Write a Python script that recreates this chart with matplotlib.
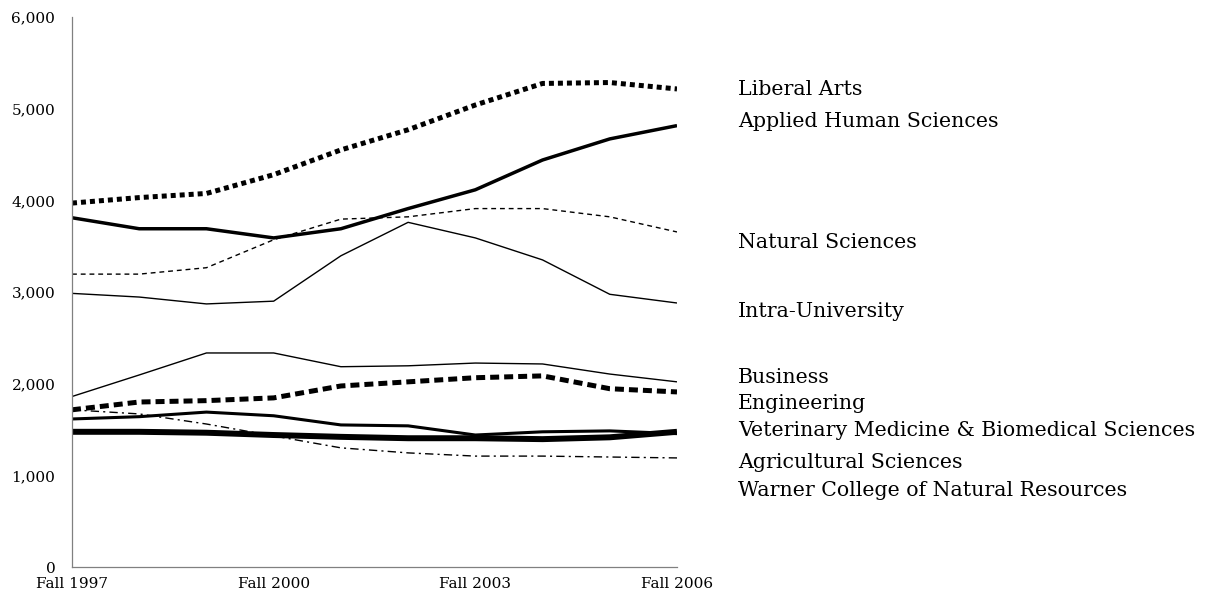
import matplotlib
matplotlib.use("Agg")
from matplotlib import pyplot as plt

plt.rcParams['font.family'] = ['DejaVu Serif']

years = ['Fall 1997', 'Fall 1998', 'Fall 1999', 'Fall 2000', 'Fall 2001',
         'Fall 2002', 'Fall 2003', 'Fall 2004', 'Fall 2005', 'Fall 2006']

liberal_arts = [3970, 4030, 4075, 4280, 4550, 4770, 5040, 5275, 5285, 5215]
applied_human = [3810, 3690, 3690, 3590, 3690, 3910, 4115, 4440, 4670, 4815]
natural_sci = [3195, 3195, 3265, 3570, 3795, 3820, 3910, 3910, 3820, 3655]
intra_univ = [2985, 2945, 2870, 2900, 3395, 3760, 3590, 3350, 2975, 2880]
business = [1860, 2095, 2335, 2335, 2185, 2195, 2225, 2215, 2105, 2020]
engineering = [1715, 1800, 1815, 1845, 1975, 2020, 2065, 2085, 1945, 1910]
vet_med = [1615, 1640, 1690, 1650, 1550, 1540, 1440, 1475, 1485, 1455]
agricultural = [1475, 1475, 1465, 1440, 1420, 1405, 1405, 1395, 1415, 1475]
warner = [1715, 1670, 1560, 1430, 1300, 1245, 1210, 1210, 1200, 1190]

names = ['Liberal Arts', 'Applied Human Sciences', 'Natural Sciences',
         'Intra-University', 'Business', 'Engineering',
         'Veterinary Medicine & Biomedical Sciences', 'Agricultural Sciences',
         'Warner College of Natural Resources']
series = [liberal_arts, applied_human, natural_sci, intra_univ, business,
          engineering, vet_med, agricultural, warner]

# line look per series: (linewidth, linestyle)
styles = [
    (3.6, (0, (1, 0.8))),
    (2.5, '-'),
    (1.0, (0, (3.5, 2.8))),
    (1.0, '-'),
    (1.0, '-'),
    (3.6, (0, (1.8, 1.0))),
    (2.2, '-'),
    (4.3, '-'),
    (1.0, (0, (6, 3, 1.5, 3))),
]

# vertical spots for the names on the right (data units)
label_y = [5204, 4855, 3535, 2782, 2062, 1789, 1484, 1145, 840]

fig = plt.figure(figsize=(12.1, 5.98), dpi=100)
ax = fig.add_axes([0.0595, 0.0518, 0.5, 0.9198])

x = list(range(len(years)))
for vals, (lw, ls) in zip(series, styles):
    ax.plot(x, vals, color='black', lw=lw, linestyle=ls,
            solid_capstyle='butt', dash_capstyle='butt')

for name, ly in zip(names, label_y):
    ax.text(9.91, ly, name, fontsize=14.8, va='center', ha='left',
            clip_on=False)

ax.set_xlim(0, 9)
ax.set_ylim(0, 6000)
ax.set_xticks([0, 3, 6, 9])
ax.set_xticklabels([years[0], years[3], years[6], years[9]])
ax.set_yticks(range(0, 6001, 1000))
ax.set_yticklabels(['{:,}'.format(v) for v in range(0, 6001, 1000)])
ax.tick_params(length=0, labelsize=11)
ax.tick_params(axis='y', pad=12)
ax.tick_params(axis='x', pad=7)

for side in ['top', 'right']:
    ax.spines[side].set_visible(False)
for side in ['left', 'bottom']:
    ax.spines[side].set_color('#808080')
    ax.spines[side].set_linewidth(0.9)

fig.savefig('out.png', dpi=100)
